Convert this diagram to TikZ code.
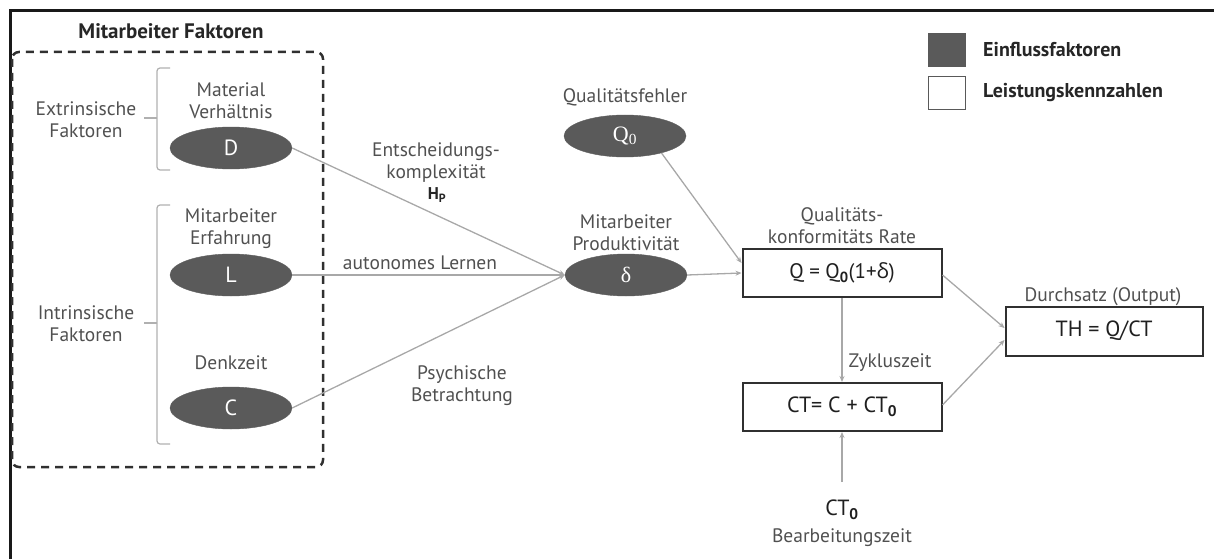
\documentclass[tikz,border=0pt]{standalone}
\usepackage{fontspec}
\setmainfont{PT Sans}
\newfontfamily\serifgr{Liberation Serif}
\newfontfamily\sansgr{Open Sans}
\usetikzlibrary{arrows.meta,shapes.geometric}

\definecolor{factorfill}{HTML}{5A5A5A}
\definecolor{boxline}{HTML}{303030}
\definecolor{labelgray}{HTML}{505050}
\definecolor{linkgray}{HTML}{A8A8A8}
\definecolor{bracegray}{HTML}{B0B0B0}

\tikzset{
  factor/.style={ellipse, fill=factorfill, draw=factorfill, minimum width=122pt,
    minimum height=42pt, inner sep=0pt, text=white, font=\fontsize{22}{22}\selectfont},
  kpi/.style={draw=boxline, line width=2pt, fill=white, minimum width=199pt,
    minimum height=48pt, inner sep=0pt, text=black!88, font=\fontsize{22}{24}\selectfont},
  lbl/.style={text=labelgray, font=\fontsize{19.5}{22}\selectfont, align=center, inner sep=0pt},
  boldlbl/.style={text=black!85, font=\fontsize{20}{22}\selectfont\bfseries, inner sep=0pt},
  link/.style={draw=linkgray, line width=1.3pt, -{Stealth[length=6pt,width=5pt]}},
  bracket/.style={draw=bracegray, line width=1.2pt, rounded corners=3pt},
}

\begin{document}
\begin{tikzpicture}[x=1pt,y=-1pt]
\useasboundingbox (0,0) rectangle (1214,559);

% frame lines (top and left)
\draw[line width=3pt, black!90] (10,559) -- (10,11) -- (1214,11);

% employee factor group
\node[boldlbl, font=\fontsize{21}{22}\selectfont\bfseries] (grouptitle) at (171,31) {Mitarbeiter Faktoren};
\draw[boxline, line width=2.5pt, dash pattern=on 8pt off 6pt, rounded corners=7pt]
  (12,52) rectangle (323,467);

% brackets grouping the factors
\draw[bracket] (170,68) -- (157,68) -- (157,170) -- (170,170);
\draw[bracket] (157,118) -- (144,118);
\draw[bracket] (170,205) -- (157,205) -- (157,444) -- (170,444);
\draw[bracket] (157,323) -- (144,323);
\node[lbl] (extr) at (86,120) {Extrinsische\\Faktoren};
\node[lbl] (intr) at (86,324) {Intrinsische\\Faktoren};

% influence factors
\node[lbl] (dlbl) at (231,101) {Material\\Verhältnis};
\node[factor] (D) at (231,148) {D};
\node[lbl] (llbl) at (231,229) {Mitarbeiter\\Erfahrung};
\node[factor] (L) at (231,275) {L};
\node[lbl] (clbl) at (231,363) {Denkzeit};
\node[factor] (C) at (231,408) {C};

\node[lbl] (q0lbl) at (625,97) {Qualitätsfehler};
\node[factor, font=\fontsize{22}{22}\serifgr] (Q0) at (625,136) {Q\textsubscript{0}};
\node[lbl] (plbl) at (626,233) {Mitarbeiter\\Produktivität};
\node[factor, font=\fontsize{22}{22}\serifgr] (P) at (626,275) {δ};

% performance indicators
\node[lbl] (qlbl) at (842,226) {Qualitäts-\\konformitäts Rate};
\node[kpi, font=\fontsize{21}{24}\selectfont] (Q) at (842,273) {Q = Q\textsubscript{\textbf{0}}(1+{\sansgr δ})};
\node[kpi] (CT) at (842,407) {CT= C + CT\textsubscript{\textbf{0}}};
\node[lbl] (thlbl) at (1103,297) {Durchsatz (Output)};
\node[kpi, minimum width=197pt, minimum height=49pt] (TH) at (1104,331) {TH = Q/CT};
\node[text=black!88, font=\fontsize{22}{24}\selectfont, inner sep=0pt] (CT0) at (842,510) {CT\textsubscript{\textbf{0}}};
\node[lbl] (ct0lbl) at (842,538) {Bearbeitungszeit};
\coordinate (CT0top) at (842,482);

% connectors
\draw[link] (D.east) -- (P.west);
\draw[link] (L.east) -- (P.west);
\draw[link] (C.east) -- (P.west);
\draw[link] (Q0.-25) -- ([yshift=10pt]Q.west);
\draw[link] (P.east) -- (Q.west);
\draw[link] ([yshift=-2pt]Q.east) -- ([yshift=3pt]TH.west);
\draw[link] ([yshift=2pt]CT.east) -- ([yshift=-9pt]TH.west);
\draw[link] (Q.south) -- (CT.north);
\draw[link] (CT0top) -- (CT.south);

% connector labels
\node[lbl] (hlbl) at (436,163) {Entscheidungs-\\komplexität};
\node[text=black!85, font=\fontsize{17}{17}\selectfont\bfseries, inner sep=0pt] (hp) at (437,195) {H\textsubscript{P}};
\node[lbl] (alrn) at (420,263) {autonomes Lernen};
\node[lbl] (psy) at (462,386) {Psychische\\Betrachtung};
\node[lbl] (zyk) at (890,363) {Zykluszeit};

% legend
\node[draw=boxline!80, line width=1.5pt, fill=factorfill, minimum width=37pt, minimum height=33pt, inner sep=0pt] (leg1) at (947,50) {};
\node[draw=boxline!80, line width=1.5pt, fill=white, minimum width=37pt, minimum height=33pt, inner sep=0pt] (leg2) at (947,93) {};
\node[boldlbl, anchor=west] (leg1t) at (983,50) {Einflussfaktoren};
\node[boldlbl, anchor=west] (leg2t) at (983,93) {Leistungskennzahlen};
\end{tikzpicture}
\end{document}
